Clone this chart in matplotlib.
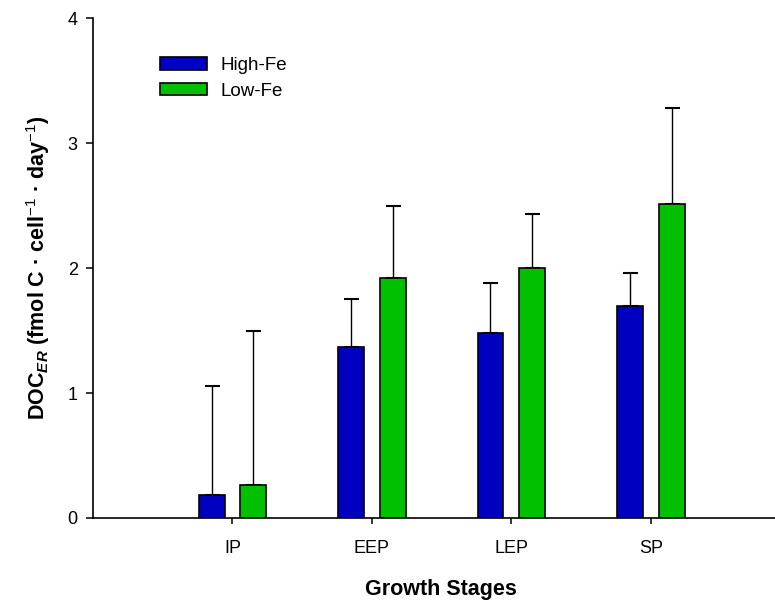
import numpy as np
import matplotlib
matplotlib.use('Agg')
from matplotlib import pyplot as plt

plt.rcParams['font.family'] = ['Liberation Sans', 'DejaVu Sans']
plt.rcParams['mathtext.fontset'] = 'custom'
plt.rcParams['mathtext.rm'] = 'Liberation Sans'
plt.rcParams['mathtext.it'] = 'Liberation Sans:italic:bold'
plt.rcParams['mathtext.bf'] = 'Liberation Sans:bold'

stages = ['IP', 'EEP', 'LEP', 'SP']
high_fe = [0.18, 1.37, 1.48, 1.70]
high_fe_err = [0.88, 0.38, 0.40, 0.26]
low_fe = [0.26, 1.92, 2.00, 2.51]
low_fe_err = [1.24, 0.58, 0.43, 0.77]

x = np.arange(1, len(stages) + 1)
w = 0.186
off = 0.15

fig = plt.figure(figsize=(7.75, 6.03), dpi=100)
ax = fig.add_axes([0.12, 0.141, 0.88, 0.829])

ax.bar(x - off, high_fe, w, color='#0000c0', edgecolor='black', linewidth=1.2,
       label='High-Fe', zorder=2)
ax.bar(x + off, low_fe, w, color='#00c000', edgecolor='black', linewidth=1.2,
       label='Low-Fe', zorder=2)
ax.errorbar(x - off, high_fe, yerr=[np.zeros(4), high_fe_err], fmt='none',
            ecolor='black', elinewidth=1, capsize=5.4, capthick=1.5, zorder=1)
ax.errorbar(x + off, low_fe, yerr=[np.zeros(4), low_fe_err], fmt='none',
            ecolor='black', elinewidth=1, capsize=5.4, capthick=1.5, zorder=1)

ax.set_xlim(0, 4.89)
ax.set_ylim(0, 4)
ax.set_xticks(x)
ax.set_xticklabels(stages)
ax.set_yticks([0, 1, 2, 3, 4])
ax.tick_params(direction='out', length=5, width=1.1, labelsize=13, pad=6)
ax.tick_params(axis='x', length=4.5, pad=11)
for s in ['top', 'right']:
    ax.spines[s].set_visible(False)
for s in ['left', 'bottom']:
    ax.spines[s].set_linewidth(1.2)

ax.set_xlabel('Growth Stages', fontsize=15.5, fontweight='bold')
ax.xaxis.set_label_coords(0.51, -0.122)
ax.set_ylabel(r'DOC$_{\mathit{ER}}$ (fmol C · cell$^{-1}$ · day$^{-1}$)',
              fontsize=15.5, fontweight='bold', labelpad=11)

ax.legend(loc='upper left', bbox_to_anchor=(0.2065, 0.905),
          bbox_transform=fig.transFigure, frameon=False, borderpad=0,
          borderaxespad=0, fontsize=13.5, handlelength=2.5,
          handleheight=0.64, labelspacing=0.45, handletextpad=0.7)

fig.savefig('out.png', dpi=100)
